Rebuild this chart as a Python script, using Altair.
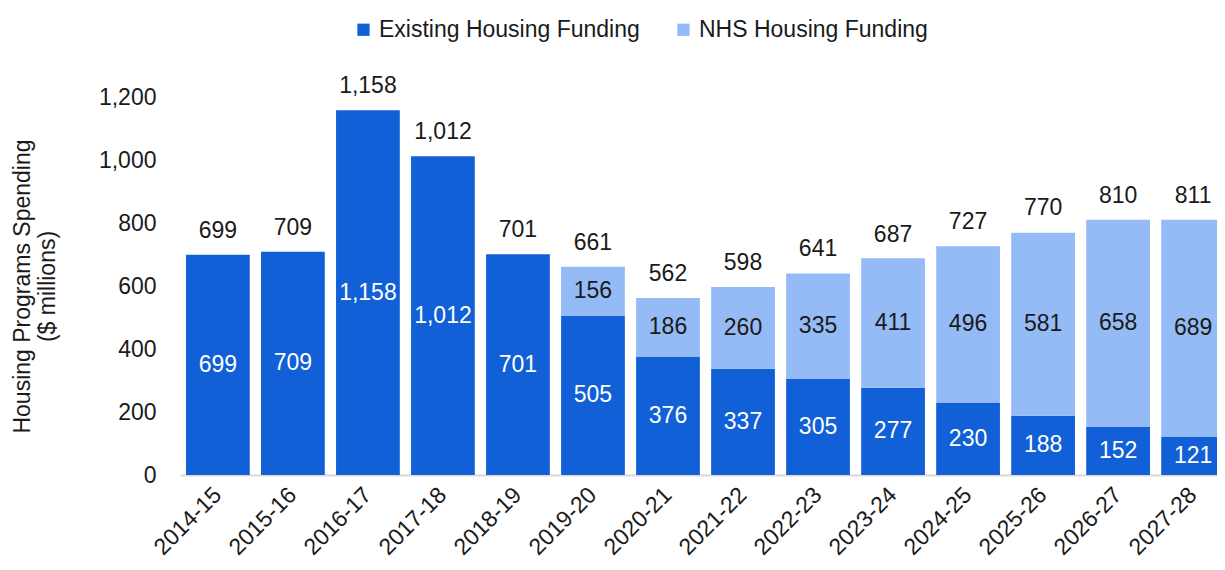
import altair as alt
import pandas as pd

years = ["2014-15", "2015-16", "2016-17", "2017-18", "2018-19", "2019-20", "2020-21",
         "2021-22", "2022-23", "2023-24", "2024-25", "2025-26", "2026-27", "2027-28"]
existing = [699, 709, 1158, 1012, 701, 505, 376, 337, 305, 277, 230, 188, 152, 121]
nhs = [0, 0, 0, 0, 0, 156, 186, 260, 335, 411, 496, 581, 658, 689]
totals = [699, 709, 1158, 1012, 701, 661, 562, 598, 641, 687, 727, 770, 810, 811]
series = ["Existing Housing Funding", "NHS Housing Funding"]
colors = ["#1160d7", "#94bbf5"]
text_colors = ["#ffffff", "#1a1a1a"]

rows = []
for i, y in enumerate(years):
    rows.append({"year": y, "series": series[0], "value": existing[i], "order": 0, "tcolor": text_colors[0]})
    if nhs[i] > 0:
        rows.append({"year": y, "series": series[1], "value": nhs[i], "order": 1, "tcolor": text_colors[1]})
df = pd.DataFrame(rows)
tot = pd.DataFrame({"year": years, "total": totals})

FONT = "Liberation Sans"
FS = 23

xscale = alt.Scale(domain=years, range=[0, 1051], paddingInner=0.15, paddingOuter=0.08)
x_enc = alt.X("year:N", sort=years, scale=xscale,
              axis=alt.Axis(title=None, labelAngle=-45, labelAlign="right", labelBaseline="middle",
                            labelFontSize=FS, labelPadding=16, ticks=False,
                            domainColor="#d9d9d9", domainWidth=2, labelColor="#1a1a1a"))
yscale = alt.Scale(domain=[0, 1200])
y_axis = alt.Axis(title=["Housing Programs Spending", "($ millions)"], titleFontSize=FS,
                  titleFontWeight="normal", titleColor="#1a1a1a", titlePadding=39,
                  values=[0, 200, 400, 600, 800, 1000, 1200],
                  labelExpr="format(datum.value, ',')",
                  labelFontSize=FS, labelPadding=24, labelColor="#1a1a1a",
                  domain=False, ticks=False, grid=False)

bars = alt.Chart(df).mark_bar().encode(
    x=x_enc,
    y=alt.Y("value:Q", stack="zero", scale=yscale, axis=y_axis),
    color=alt.Color("series:N", scale=alt.Scale(domain=series, range=colors),
                    legend=alt.Legend(title=None, orient="none", direction="horizontal",
                                      legendX=172, legendY=-79, symbolType="square", symbolSize=150,
                                      symbolStrokeWidth=0, labelFontSize=FS, labelColor="#1a1a1a",
                                      columnPadding=32, labelOffset=4, labelLimit=0)),
    order=alt.Order("order:Q"),
)

seg = alt.Chart(df).transform_stack(
    stack="value", groupby=["year"], as_=["v0", "v1"], sort=[alt.SortField("order")]
).transform_calculate(mid="(datum.v0 + datum.v1) / 2").mark_text(
    fontSize=FS, baseline="middle"
).encode(
    x=x_enc,
    y=alt.Y("mid:Q", scale=yscale, axis=y_axis),
    text=alt.Text("value:Q", format=","),
    color=alt.Color("tcolor:N", scale=None),
)

top = alt.Chart(tot).mark_text(fontSize=FS, baseline="bottom", dy=-12, color="#1a1a1a").encode(
    x=x_enc,
    y=alt.Y("total:Q", scale=yscale, axis=y_axis),
    text=alt.Text("total:Q", format=","),
)

chart = alt.layer(bars, seg, top).properties(
    width=1037, height=378,
    autosize=alt.AutoSizeParams(type="none"),
    padding={"left": 172, "top": 89, "right": 0, "bottom": 87},
).configure(font=FONT).configure_view(stroke=None)

chart.save("out.html", embed_options={"renderer": "svg", "actions": False})
